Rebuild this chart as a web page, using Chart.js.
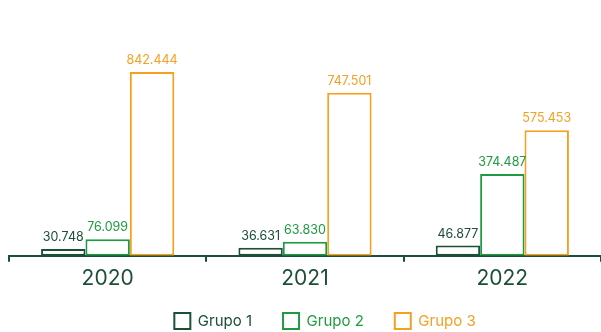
<!DOCTYPE html>
<html>
<head>
<meta charset="utf-8">
<script src="https://cdn.jsdelivr.net/npm/chart.js@4"></script>
<style>
    html, body { margin: 0; padding: 0; background: #fff; }
    #wrap { width: 601px; height: 332px; }
</style>
</head>
<body>
<div id="wrap"><canvas id="grupos-chart"></canvas></div>
<script>
var years = ['2020', '2021', '2022'];
var grupo1 = [30748, 36631, 46877];
var grupo2 = [76099, 63830, 374487];
var grupo3 = [842444, 747501, 575453];

var cDark = '#1c4f37';
var cGreen = '#1f9a42';
var cOrange = '#f5a021';

function fmt(v) {
    return String(v).replace(/\B(?=(\d{3})+(?!\d))/g, '.');
}

// writes each bar's value just above it, in the bar's colour
var valueLabels = {
    id: 'valueLabels',
    afterDatasetsDraw(chart) {
        const ctx = chart.ctx;
        ctx.save();
        ctx.font = '12.5px Inter';
        ctx.textAlign = 'center';
        ctx.textBaseline = 'alphabetic';
        chart.data.datasets.forEach(function (ds, i) {
            chart.getDatasetMeta(i).data.forEach(function (bar, j) {
                ctx.fillStyle = ds.borderColor;
                ctx.fillText(fmt(ds.data[j]), bar.x, bar.y - 8);
            });
        });
        ctx.restore();
    }
};

// legend takes less room above its row, so the axis sits lower
var legendFit = {
    id: 'legendFit',
    beforeLayout(chart) {
        const lg = chart.legend;
        if (lg && !lg._fitWrapped) {
            const fit = lg.fit;
            lg.fit = function () { fit.call(this); this.height -= 22; };
            lg._fitWrapped = true;
        }
    },
    afterLayout(chart) {
        const lg = chart.legend;
        if (!lg) return;
        lg.top -= 13;
        lg.bottom = chart.height;
        lg.left += 20;
        lg.right += 20;
    }
};

function makeSet(label, data, color) {
    return {
        label: label,
        data: data,
        borderColor: color,
        backgroundColor: '#ffffff',
        borderWidth: 2,
        borderSkipped: false
    };
}

new Chart(document.getElementById('grupos-chart'), {
    type: 'bar',
    data: {
        labels: years,
        datasets: [
            makeSet('Grupo 1', grupo1, cDark),
            makeSet('Grupo 2', grupo2, cGreen),
            makeSet('Grupo 3', grupo3, cOrange)
        ]
    },
    options: {
        responsive: true,
        maintainAspectRatio: false,
        animation: false,
        layout: { padding: { left: 9, right: 0, top: 30, bottom: 2 } },
        datasets: { bar: { barPercentage: 1, categoryPercentage: 0.675 } },
        scales: {
            x: {
                border: { display: true, color: cDark, width: 2 },
                grid: { display: true, drawOnChartArea: false, color: cDark, tickLength: 6, lineWidth: 2 },
                ticks: { color: cDark, font: { family: 'Inter', size: 21 }, padding: 4 }
            },
            y: { display: false, min: 0, max: 1035000 }
        },
        plugins: {
            legend: {
                position: 'bottom',
                labels: {
                    boxWidth: 16,
                    boxHeight: 16,
                    padding: 31,
                    font: { family: 'Inter', size: 15 },
                    generateLabels(chart) {
                        return chart.data.datasets.map(function (ds, i) {
                            return {
                                text: ds.label,
                                fillStyle: '#ffffff',
                                strokeStyle: ds.borderColor,
                                fontColor: ds.borderColor,
                                lineWidth: 2,
                                datasetIndex: i
                            };
                        });
                    }
                }
            },
            tooltip: { enabled: false }
        }
    },
    plugins: [valueLabels, legendFit]
});
</script>
</body>
</html>
